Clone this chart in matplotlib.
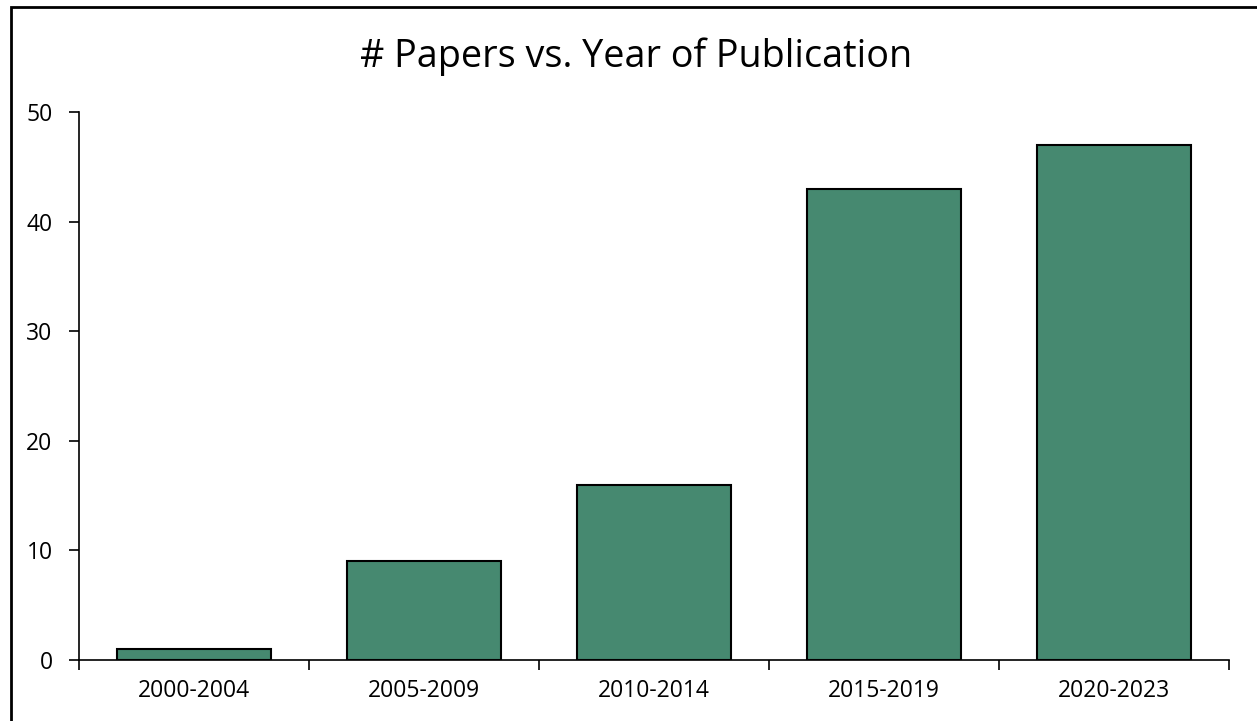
import matplotlib.pyplot as plt
from matplotlib.patches import Rectangle

plt.rcParams['font.family'] = ['Open Sans', 'DejaVu Sans']

periods = ["2000-2004", "2005-2009", "2010-2014", "2015-2019", "2020-2023"]
papers = [1, 9, 16, 43, 47]

fig = plt.figure(figsize=(12.57, 7.21), dpi=100)
ax = fig.add_axes([79 / 1257, 1 - 660 / 721, 1150 / 1257, 548 / 721])

x = range(len(periods))
ax.bar(x, papers, width=0.667, color="#468970", edgecolor="black", linewidth=1.5, zorder=3)

ax.set_xlim(-0.5, len(periods) - 0.5)
ax.set_ylim(0, 50)
ax.set_yticks(range(0, 51, 10))
ax.set_xticks(list(x))
ax.set_xticklabels(periods)
ax.tick_params(axis="x", length=0, pad=14, labelsize=16.5)
ax.tick_params(axis="y", length=7, width=1.2, pad=12, labelsize=16.5)
# category separators below the x axis
ax.set_xticks([i - 0.5 for i in range(len(periods) + 1)], minor=True)
ax.tick_params(axis="x", which="minor", length=7, width=1.2)

for side in ["top", "right"]:
    ax.spines[side].set_visible(False)
for side in ["left", "bottom"]:
    ax.spines[side].set_linewidth(1.2)

fig.text(636 / 1257, 1 - 57 / 721, "# Papers vs. Year of Publication", ha="center", va="center", fontsize=27.2)

# outer chart border (extends past the image on the right and bottom)
fig.patches.append(Rectangle((11 / 1257, -0.1), 1.2, 1 - 7 / 721 + 0.1,
                             transform=fig.transFigure, fill=False,
                             edgecolor="black", linewidth=2))

fig.savefig("out.png", dpi=100)
